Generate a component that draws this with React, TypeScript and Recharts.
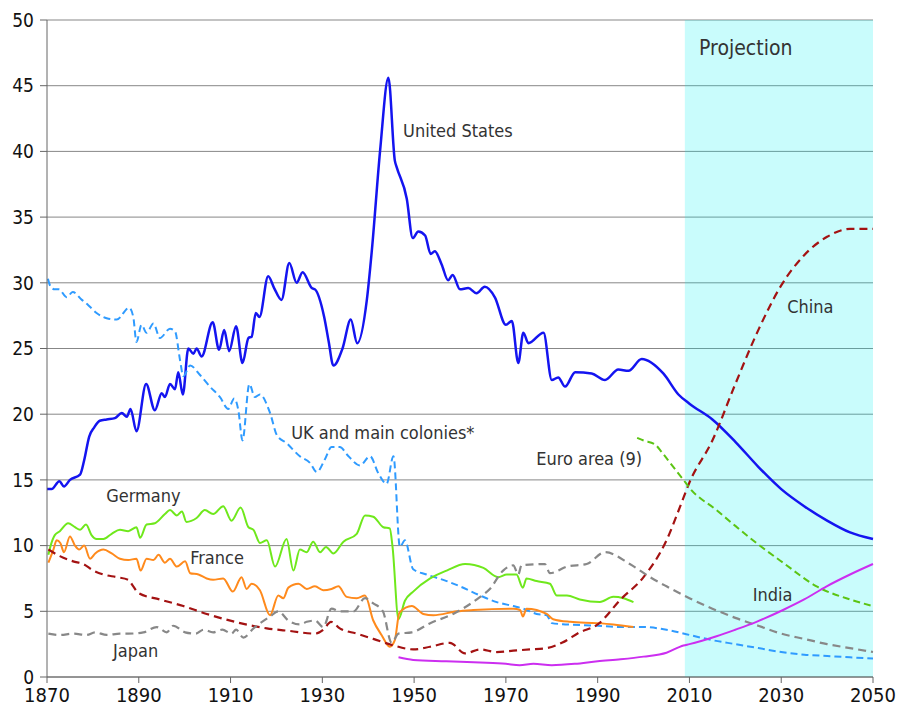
import React from "react";
import {
  LineChart,
  Line,
  XAxis,
  YAxis,
  CartesianGrid,
  ReferenceArea,
  ReferenceDot,
} from "recharts";

// [year, share of world GDP %]
const usData: [number, number][] = [
  [1870, 14.3], [1871, 14.3], [1872.7, 14.9], [1873.7, 14.5], [1875, 15.0], [1877.2, 15.4],
  [1878.1, 16.5], [1879.2, 18.3], [1880.3, 19.0], [1881.5, 19.5], [1883, 19.6], [1884.8, 19.7],
  [1886.3, 20.1], [1887.4, 19.8], [1888.2, 20.4], [1889.5, 18.7], [1891.6, 22.3], [1893.5, 20.3],
  [1895.0, 21.6], [1895.7, 21.3], [1896.8, 22.3], [1897.9, 21.9], [1898.6, 23.2], [1899.6, 21.5],
  [1900.8, 25.0], [1901.9, 24.6], [1902.6, 25.0], [1903.7, 24.4], [1906.1, 27.0], [1907.5, 24.9],
  [1908.6, 26.4], [1909.7, 24.8], [1911.2, 26.7], [1912.6, 23.9], [1913.9, 25.8], [1914.6, 25.9],
  [1915.5, 27.7], [1916.3, 27.4], [1918.2, 30.5], [1919.5, 29.6], [1921.1, 28.7], [1922.8, 31.5],
  [1924.4, 30.0], [1925.7, 30.8], [1927.7, 29.6], [1928.4, 29.5], [1930.4, 27.4], [1931.4, 25.5],
  [1932.4, 23.7], [1934.4, 25.0], [1936.2, 27.2], [1937.6, 25.4], [1939.7, 28.7], [1940.8, 32.5],
  [1942.6, 40.1], [1944.4, 45.6], [1945.8, 39.3], [1946.2, 38.8], [1948.4, 36.4], [1949.7, 33.4],
  [1950.9, 33.9], [1952.4, 33.6], [1953.6, 32.2], [1954.5, 32.4], [1956.0, 31.4], [1957.4, 30.2],
  [1958.4, 30.6], [1960.0, 29.5], [1961.8, 29.6], [1963.6, 29.2], [1965.4, 29.7], [1967.6, 28.9],
  [1970.0, 26.8], [1971.3, 27.1], [1972.7, 23.9], [1973.8, 26.2], [1974.9, 25.4], [1978.2, 26.2],
  [1980.0, 22.6], [1981.4, 22.8], [1982.9, 22.1], [1985.1, 23.2], [1988.7, 23.1], [1991.6, 22.6],
  [1994.5, 23.4], [1996.7, 23.3], [1999.6, 24.2], [2004.3, 23.1], [2007.6, 21.5], [2010, 20.8],
  [2015, 19.6], [2020, 17.9], [2025, 16.0], [2030, 14.3], [2035, 13.0], [2040, 11.9], [2045, 11.0],
  [2050, 10.5],
];

const ukData: [number, number][] = [
  [1870.2, 30.3], [1870.8, 29.7], [1871.7, 29.5], [1872.6, 29.5], [1874.3, 28.9], [1875.6, 29.3],
  [1877.6, 28.7], [1879, 28.3], [1880.8, 27.7], [1883.0, 27.3], [1885.2, 27.2], [1887.9, 28.1],
  [1888.8, 27.4], [1889.5, 25.5], [1890.6, 26.8], [1891.7, 26.2], [1893.2, 26.9], [1894.6, 25.8],
  [1896.8, 26.5], [1897.9, 26.3], [1899.0, 24.1], [1899.7, 22.9], [1901.2, 23.7], [1903.3, 23.0],
  [1905.5, 22.1], [1907.7, 21.3], [1909.5, 20.4], [1910.8, 21.2], [1911.7, 20.3], [1912.6, 18.0],
  [1914.1, 22.3], [1915.3, 21.3], [1916.4, 21.5], [1918.6, 20.1], [1920.1, 18.4], [1922.2, 17.8],
  [1925.1, 16.8], [1927.3, 16.3], [1928.8, 15.6], [1930.6, 16.6], [1932.0, 17.5], [1933.8, 17.5],
  [1935.7, 16.8], [1938.2, 16.1], [1940.4, 16.8], [1942.2, 15.5], [1944.0, 14.7], [1945.5, 16.8],
  [1946.9, 9.9], [1948.0, 10.4], [1949.8, 8.2], [1952.7, 7.8], [1957.1, 7.3], [1960.0, 6.9],
  [1964.4, 6.2], [1968.0, 5.7], [1971.6, 5.4], [1973.8, 5.2], [1976.7, 4.8], [1978.9, 4.7],
  [1980.0, 4.1], [1983.3, 4.0], [1990, 3.9], [1995, 3.8], [2000, 3.8], [2005, 3.6], [2010, 3.2],
  [2015, 2.8], [2020, 2.5], [2025, 2.2], [2030, 1.9], [2035, 1.7], [2040, 1.6], [2045, 1.5],
  [2050, 1.4],
];

const germanyData: [number, number][] = [
  [1870.3, 9.3], [1870.8, 10.0], [1871.7, 10.8], [1872.8, 11.1], [1874.6, 11.7], [1876.1, 11.4],
  [1877.2, 11.2], [1878.5, 11.6], [1879.7, 10.8], [1880.8, 10.5], [1882.3, 10.5], [1884.1, 10.9],
  [1885.9, 11.2], [1887.7, 11.1], [1889.5, 11.4], [1890.3, 10.6], [1891.7, 11.6], [1893.5, 11.7],
  [1895.7, 12.4], [1896.8, 12.7], [1898.3, 12.3], [1899.4, 12.6], [1900.4, 11.8], [1902.6, 12.1],
  [1904.4, 12.7], [1906.2, 12.4], [1908.4, 13.0], [1910.2, 11.9], [1912.2, 12.9], [1913.9, 11.4],
  [1915.0, 11.2], [1916.4, 10.2], [1917.9, 10.4], [1919.7, 8.4], [1922.2, 10.5], [1923.7, 8.1],
  [1925.1, 9.7], [1926.6, 9.5], [1928.0, 10.3], [1929.5, 9.5], [1930.8, 9.9], [1932.4, 9.4],
  [1934.6, 10.3], [1937.5, 10.9], [1939.3, 12.3], [1941.1, 12.2], [1943.3, 11.4], [1944.7, 11.3],
  [1945.3, 9.9], [1946.6, 4.4], [1948, 5.8], [1949.8, 6.5], [1953.5, 7.5], [1957.1, 8.1],
  [1961.1, 8.6], [1965.1, 8.3], [1968.3, 7.6], [1970.2, 7.8], [1972.3, 7.8], [1973.7, 6.8],
  [1974.5, 7.5], [1976.7, 7.3], [1979.6, 7.1], [1981.1, 6.2], [1983.3, 6.2], [1986.1, 5.9],
  [1990.5, 5.7], [1993.4, 6.1], [1995.6, 6.0], [1997.8, 5.7],
];

const franceData: [number, number][] = [
  [1870.3, 8.7], [1871.4, 9.7], [1872.1, 10.4], [1872.9, 10.2], [1873.7, 9.5], [1875.0, 10.7],
  [1876.1, 10.0], [1877.0, 9.7], [1878.1, 10.0], [1879.4, 9.0], [1880.5, 9.4], [1882.3, 9.7],
  [1884.1, 9.4], [1885.9, 9.0], [1887.7, 8.9], [1889.5, 9.0], [1890.4, 8.1], [1891.7, 9.0],
  [1893.2, 8.9], [1894.3, 9.3], [1895.7, 8.7], [1896.8, 9.0], [1898.3, 8.4], [1900.1, 8.8],
  [1901.2, 7.9], [1903.0, 7.8], [1904.8, 7.5], [1906.2, 7.4], [1908.4, 7.5], [1910.5, 6.5],
  [1912.4, 7.6], [1913.5, 6.7], [1914.6, 7.1], [1916.4, 6.6], [1918.6, 4.7], [1920.4, 6.2],
  [1921.5, 6.0], [1922.6, 6.8], [1924.8, 7.1], [1926.6, 6.7], [1928.4, 6.9], [1930.2, 6.6],
  [1932.0, 6.7], [1933.5, 6.9], [1935.3, 6.1], [1937.5, 6.0], [1939.3, 6.2], [1941.1, 4.3],
  [1942.9, 3.2], [1944.7, 2.3], [1945.8, 2.8], [1946.8, 4.9], [1949.5, 5.4], [1952.0, 4.8],
  [1954.2, 4.7], [1959.3, 5.0], [1962.9, 5.1], [1971.6, 5.2], [1973.1, 5.1], [1973.7, 4.6],
  [1974.5, 5.2], [1978.9, 4.8], [1980.3, 4.4], [1984.0, 4.2], [1989.8, 4.1], [1993.4, 4.0],
  [1997.8, 3.8],
];

const chinaData: [number, number][] = [
  [1870.3, 9.7], [1872.8, 9.2], [1875.7, 8.8], [1877.9, 8.6], [1880.1, 8.1], [1882.3, 7.8],
  [1885.2, 7.6], [1887.7, 7.4], [1888.8, 6.9], [1889.9, 6.4], [1894.6, 5.9], [1899.7, 5.4],
  [1904.8, 4.8], [1912.1, 4.1], [1917.9, 3.7], [1923.0, 3.5], [1928.4, 3.3], [1930.2, 3.6],
  [1931.9, 4.2], [1933.8, 3.7], [1937.5, 3.3], [1941.1, 2.9], [1945.5, 2.4], [1949.8, 2.1],
  [1953.5, 2.3], [1957.8, 2.6], [1961.1, 1.8], [1964.4, 2.1], [1968.0, 1.9], [1971.6, 2.0],
  [1975.2, 2.1], [1978.9, 2.2], [1982.2, 2.6], [1986.1, 3.4], [1990, 4.0], [1995, 5.9],
  [2000, 7.6], [2005, 10.4], [2008, 13.0], [2010, 14.8], [2015, 18.0], [2020, 22.3],
  [2025, 26.4], [2030, 29.8], [2035, 32.1], [2040, 33.5], [2045, 34.1], [2050, 34.1],
];

const japanData: [number, number][] = [
  [1870.3, 3.3], [1872.8, 3.2], [1875.7, 3.3], [1878.6, 3.2], [1880.5, 3.4], [1883, 3.2],
  [1885.9, 3.3], [1887.7, 3.3], [1891.0, 3.4], [1893.9, 3.8], [1896.1, 3.4], [1897.5, 3.9],
  [1900.1, 3.4], [1902.4, 3.3], [1904.1, 3.6], [1906.2, 3.4], [1908.2, 3.6], [1910.2, 3.3],
  [1911.2, 3.6], [1912.8, 3.0], [1915, 3.7], [1918.6, 4.6], [1920.4, 5.0], [1922.6, 4.3],
  [1925.1, 4.0], [1926.6, 4.2], [1928.4, 4.3], [1930.2, 3.8], [1932.0, 5.2], [1933.8, 5.0],
  [1936.8, 5.0], [1939.3, 6.0], [1941.1, 5.6], [1943.2, 5.0], [1945.1, 2.6], [1946.6, 3.3],
  [1949.5, 3.4], [1953.5, 4.1], [1958.5, 4.8], [1964.4, 6.1], [1966.5, 6.7], [1969.4, 8.1],
  [1971.6, 8.5], [1972.7, 7.8], [1973.4, 8.5], [1978.5, 8.6], [1979.6, 7.9], [1983.3, 8.4],
  [1987.6, 8.6], [1991.6, 9.5], [1997.0, 8.6], [2001.4, 7.6], [2005, 6.9], [2010, 6.0],
  [2015, 5.2], [2020, 4.5], [2025, 3.9], [2030, 3.3], [2035, 2.9], [2040, 2.5], [2045, 2.2],
  [2050, 1.9],
];

const euroData: [number, number][] = [
  [1998.6, 18.2], [2000, 18.0], [2002.5, 17.7], [2004, 17.1], [2006, 16.2], [2008.7, 15.0],
  [2010, 14.4], [2015.9, 12.7], [2020, 11.5], [2024.6, 10.2], [2030.4, 8.7], [2037.7, 6.9],
  [2045, 5.9], [2050, 5.4],
];

const indiaData: [number, number][] = [
  [1946.6, 1.5], [1949.8, 1.3], [1957, 1.2], [1964.4, 1.1], [1970, 1.0], [1973, 0.9],
  [1976, 1.0], [1980, 0.9], [1985, 1.0], [1990, 1.2], [1995, 1.35], [2000, 1.55], [2005, 1.85],
  [2008.7, 2.4], [2010, 2.5], [2015.9, 3.1], [2020, 3.6], [2024.6, 4.2], [2030.4, 5.1],
  [2035, 5.9], [2039.9, 6.9], [2045, 7.8], [2050, 8.6],
];

const xTicks = [1870, 1890, 1910, 1930, 1950, 1970, 1990, 2010, 2030, 2050];
const yTicks = [0, 5, 10, 15, 20, 25, 30, 35, 40, 45, 50];

// text labels placed in data coordinates: [text, year, value]
const annotations: [string, number, number][] = [
  ["Projection", 2012.1, 47.9],
  ["United States", 1947.6, 41.6],
  ["China", 2031.3, 28.2],
  ["UK and main colonies*", 1923.2, 18.6],
  ["Euro area (9)", 1976.6, 16.6],
  ["Germany", 1882.9, 13.85],
  ["France", 1901.2, 9.1],
  ["India", 2023.8, 6.3],
  ["Japan", 1884.4, 2.05],
];

const FONT = "'DejaVu Sans Condensed', 'DejaVu Sans', sans-serif";

const pts = (arr: [number, number][]) => arr.map(([year, v]) => ({ year, v }));

const series = [
  { name: "us", data: usData, color: "#1414f0", width: 2.5, dash: undefined },
  { name: "uk", data: ukData, color: "#2f9bff", width: 2, dash: "7 4" },
  { name: "germany", data: germanyData, color: "#6fe81c", width: 2, dash: undefined },
  { name: "france", data: franceData, color: "#ff8a1c", width: 2, dash: undefined },
  { name: "china", data: chinaData, color: "#a31212", width: 2.2, dash: "8 5" },
  { name: "japan", data: japanData, color: "#888888", width: 2.2, dash: "8 5" },
  { name: "euro", data: euroData, color: "#5cc414", width: 2, dash: "7 4" },
  { name: "india", data: indiaData, color: "#cc2ef0", width: 2, dash: undefined },
];

export default function App() {
  return (
    <div style={{ position: "absolute", left: 0, top: 0, background: "#fff", fontFamily: FONT }}>
      <LineChart width={901} height={712} margin={{ top: 20, right: 28, bottom: 0, left: 0 }}>
        <ReferenceArea
          x1={2009}
          x2={2050}
          y1={0}
          y2={50}
          fill="#00f0f0"
          fillOpacity={0.21}
          stroke="none"
        />
        <CartesianGrid vertical={false} stroke="#7a7a7a" strokeOpacity={0.9} />
        <XAxis
          type="number"
          dataKey="year"
          domain={[1870, 2050]}
          ticks={xTicks}
          allowDuplicatedCategory={false}
          height={35}
          tickSize={6}
          tickMargin={5}
          stroke="#666"
          tick={{ fill: "#111", fontSize: 20, fontFamily: FONT }}
        />
        <YAxis
          type="number"
          domain={[0, 50]}
          ticks={yTicks}
          width={47}
          tickSize={7}
          tickMargin={6}
          stroke="#666"
          tick={{ fill: "#111", fontSize: 19, fontFamily: FONT }}
        />
        {series.map((s) => (
          <Line
            key={s.name}
            data={pts(s.data)}
            dataKey="v"
            type="monotone"
            stroke={s.color}
            strokeWidth={s.width}
            strokeDasharray={s.dash}
            dot={false}
            activeDot={false}
            isAnimationActive={false}
          />
        ))}
        {annotations.map(([text, x, y]) => (
          <ReferenceDot
            key={text}
            x={x}
            y={y}
            r={0}
            shape={(p: any) => (
              <text
                x={p.cx}
                y={p.cy}
                fill="#333"
                fontSize={text === "Projection" ? 21 : 18}
                fontFamily={FONT}
                dominantBaseline="central"
              >
                {text}
              </text>
            )}
          />
        ))}
      </LineChart>
    </div>
  );
}
